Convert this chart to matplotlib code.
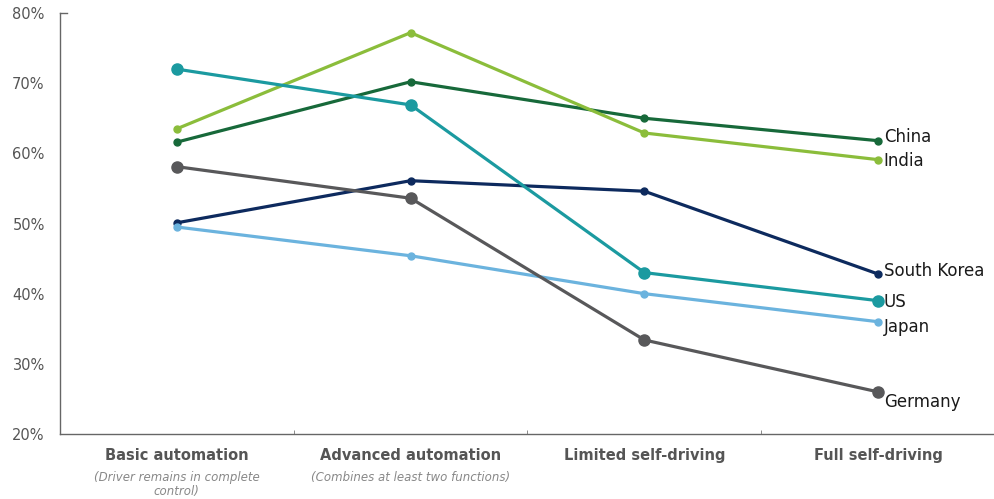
import matplotlib.pyplot as plt
from matplotlib.ticker import FixedLocator, PercentFormatter

stages = ['Basic automation', 'Advanced automation', 'Limited self-driving', 'Full self-driving']
notes = ['(Driver remains in complete\ncontrol)', '(Combines at least two functions)', '', '']

china = [61.6, 70.2, 65.0, 61.8]
india = [63.5, 77.2, 62.9, 59.1]
us = [72.0, 66.9, 43.0, 39.0]
south_korea = [50.1, 56.1, 54.6, 42.8]
germany = [58.1, 53.6, 33.4, 26.0]
japan = [49.5, 45.4, 40.0, 36.0]

series = [
    ('China', china, '#17693a', 5, (4, 3)),
    ('India', india, '#8bbd3b', 5, (4, -1)),
    ('South Korea', south_korea, '#0d2a5e', 5, (4, 2)),
    ('US', us, '#1b9aa0', 8, (4, -1)),
    ('Japan', japan, '#6bb3de', 5, (4, -4)),
    ('Germany', germany, '#58585a', 8, (4, -7)),
]

fig = plt.figure(figsize=(9.95, 4.99), dpi=100)
ax = fig.add_axes([60 / 995, 65 / 499, 935 / 995, 421 / 499])

x = list(range(len(stages)))
for name, vals, col, ms, off in series:
    ax.plot(x, vals, color=col, lw=2.3, marker='o', ms=ms, zorder=3)
    ax.annotate(name, (x[-1], vals[-1]), xytext=off, textcoords='offset points',
                ha='left', va='center', fontsize=12, color='#1a1a1a')

ax.set_xlim(-0.5, 3.5)
ax.set_ylim(20, 80)
ax.yaxis.set_major_formatter(PercentFormatter(decimals=0))
ax.set_yticks(range(20, 81, 10))
ax.tick_params(axis='y', length=0, labelsize=10.5, labelcolor='#555555', pad=11)
# small cap at the top of the left spine
ax.plot([-0.5, -0.47], [80, 80], color='#666666', lw=1, clip_on=False)

ax.set_xticks(x)
ax.set_xticklabels(stages, fontsize=10.5, fontweight='bold', color='#555555')
ax.tick_params(axis='x', which='major', length=0, pad=10)
ax.xaxis.set_minor_locator(FixedLocator([0.5, 1.5, 2.5]))
ax.tick_params(axis='x', which='minor', direction='in', length=3, color='#777777')

for i, note in enumerate(notes):
    if note:
        ax.text(i, -0.088, note, transform=ax.get_xaxis_transform(), ha='center', va='top',
                fontsize=8.5, style='italic', color='#888888', linespacing=1.1)

for side in ['top', 'right']:
    ax.spines[side].set_visible(False)
for side in ['left', 'bottom']:
    ax.spines[side].set_color('#666666')
    ax.spines[side].set_linewidth(1)

fig.savefig('out.png', dpi=100)
